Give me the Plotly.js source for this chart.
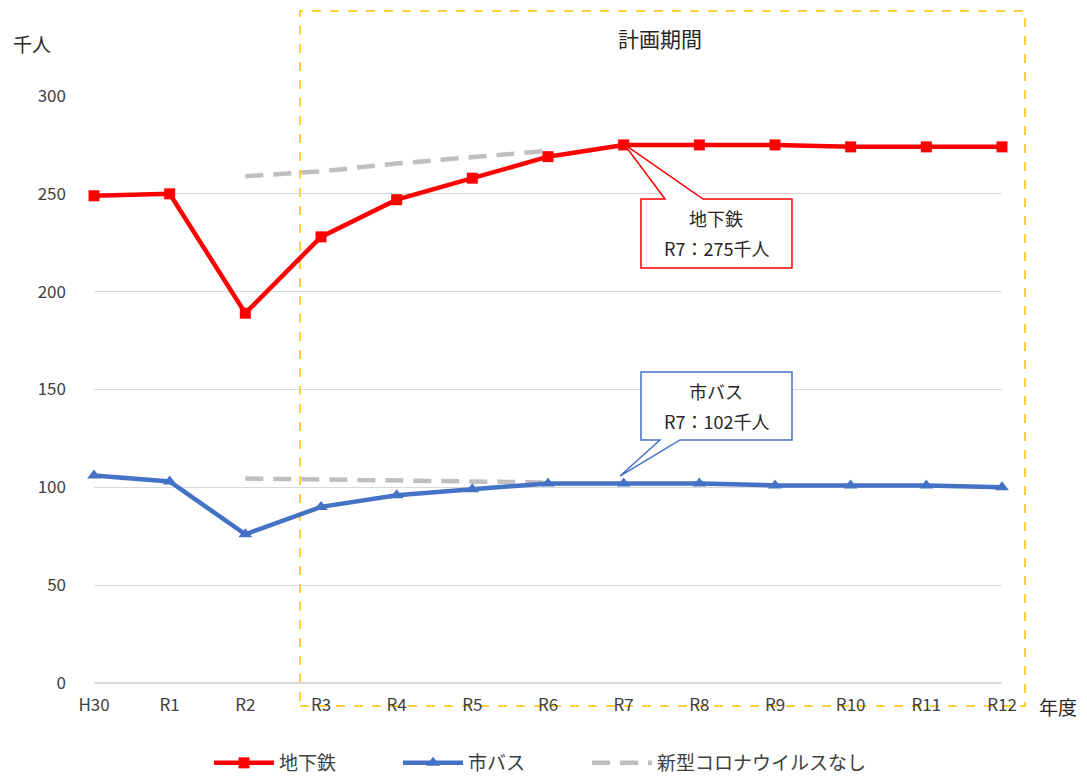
<!DOCTYPE html>
<html><head><meta charset="utf-8">
<script src="https://cdn.plot.ly/plotly-3.0.1.min.js"></script>
<style>html,body{margin:0;padding:0;background:#fff;}#chart{width:1087px;height:776px;}</style>
</head><body><div id="chart"></div>
<script>
const categories = ['H30','R1','R2','R3','R4','R5','R6','R7','R8','R9','R10','R11','R12'];
const subway = [249,250,189,228,247,258,269,275,275,275,274,274,274];
const bus = [106,103,76,90,96,99,102,102,102,101,101,101,100];
const noCovidCats = ['R2','R3','R4','R5','R6'];
const noCovidSubway = [259,261.5,265.5,269,272];
const noCovidBus = [104.5,104,103,103,102.5];
const seriesNames = ['地下鉄','市バス','新型コロナウイルスなし'];

const FONT = '"Noto Sans CJK JP", "Noto Sans", sans-serif';
const TXT = '#404040';
const L=94, R=1002, T=96, B=683;
const px = x => (x-L)/(R-L);
const py = y => (B-y)/(B-T);
function path(pts){return 'M '+pts.map(p=>px(p[0]).toFixed(4)+','+py(p[1]).toFixed(4)).join(' L ')+' Z';}
const PAD = '\u3000\u3000\u3000';

const grayLine = {color:'#BFBFBF',width:4.5,dash:'18px,10px'};
const traces = [
  {x:noCovidCats,y:noCovidSubway,type:'scatter',mode:'lines',name:seriesNames[2],line:grayLine,legendrank:3,cliponaxis:false},
  {x:noCovidCats,y:noCovidBus,type:'scatter',mode:'lines',name:seriesNames[2],showlegend:false,line:grayLine,cliponaxis:false},
  {x:categories,y:subway,type:'scatter',mode:'lines+markers',name:seriesNames[0]+PAD,legendrank:1,cliponaxis:false,
   line:{color:'#FF0000',width:4.5},marker:{symbol:'square',size:11,color:'#FF0000'}},
  {x:categories,y:bus,type:'scatter',mode:'lines+markers',name:seriesNames[1]+PAD,legendrank:2,cliponaxis:false,
   line:{color:'#4472C4',width:4.5},marker:{symbol:'triangle-up',size:12,color:'#4472C4'}}
];

const layout = {
  width:1087,height:776,
  margin:{l:L,r:1087-R,t:T,b:776-B,autoexpand:false},
  paper_bgcolor:'#fff',plot_bgcolor:'#fff',
  font:{family:FONT,size:16,color:TXT},
  showlegend:true,
  legend:{orientation:'h',x:px(209),xanchor:'left',yref:'container',y:(776-763)/776,yanchor:'middle',
          font:{size:19,color:TXT},itemwidth:60},
  xaxis:{type:'category',categoryarray:categories,range:[0,12],showgrid:false,zeroline:false,
         showline:false,ticks:'',tickfont:{size:17,color:TXT},ticklen:0,ticklabelstandoff:10,fixedrange:true},
  yaxis:{range:[0,300],dtick:50,tick0:0,showgrid:true,gridcolor:'#D9D9D9',gridwidth:1.2,zeroline:true,
         zerolinecolor:'#D9D9D9',zerolinewidth:1.5,showline:false,ticks:'',ticklabelstandoff:27,
         tickfont:{size:17,color:TXT},fixedrange:true},
  shapes:[
    {type:'rect',xref:'paper',yref:'paper',x0:px(300),x1:px(1025),y0:py(706),y1:py(11),
     line:{color:'#FFC000',width:1.5,dash:'dash'},fillcolor:'rgba(0,0,0,0)',layer:'below'},
    {type:'path',xref:'paper',yref:'paper',layer:'above',
     path:path([[641,199],[665,199],[624,144],[703,199],[792,199],[792,268],[641,268]]),
     line:{color:'#FF0000',width:1.5},fillcolor:'#FFFFFF'},
    {type:'path',xref:'paper',yref:'paper',layer:'above',
     path:path([[641,372],[792,372],[792,440],[680,440],[620,476],[660,440],[641,440]]),
     line:{color:'#4472C4',width:1.5},fillcolor:'#FFFFFF'}
  ],
  annotations:[
    {xref:'paper',yref:'paper',x:px(660),y:py(38),text:'計画期間',showarrow:false,
     font:{size:21,color:'#262626'},xanchor:'center',yanchor:'middle'},
    {xref:'paper',yref:'paper',x:px(32),y:py(43),text:'千人',showarrow:false,
     font:{size:19,color:'#262626'},xanchor:'center',yanchor:'middle'},
    {xref:'paper',yref:'paper',x:px(1058),y:py(706),text:'年度',showarrow:false,
     font:{size:19,color:'#262626'},xanchor:'center',yanchor:'middle'},
    {xref:'paper',yref:'paper',x:px(716),y:py(218),text:'地下鉄',showarrow:false,
     font:{size:18,color:'#262626'},xanchor:'center',yanchor:'middle'},
    {xref:'paper',yref:'paper',x:px(716),y:py(248),text:'R7：275千人',showarrow:false,
     font:{size:18,color:'#262626'},xanchor:'center',yanchor:'middle'},
    {xref:'paper',yref:'paper',x:px(716),y:py(391),text:'市バス',showarrow:false,
     font:{size:18,color:'#262626'},xanchor:'center',yanchor:'middle'},
    {xref:'paper',yref:'paper',x:px(716),y:py(421),text:'R7：102千人',showarrow:false,
     font:{size:18,color:'#262626'},xanchor:'center',yanchor:'middle'}
  ]
};
Plotly.newPlot('chart',traces,layout,{displayModeBar:false,staticPlot:true});
</script></body></html>
